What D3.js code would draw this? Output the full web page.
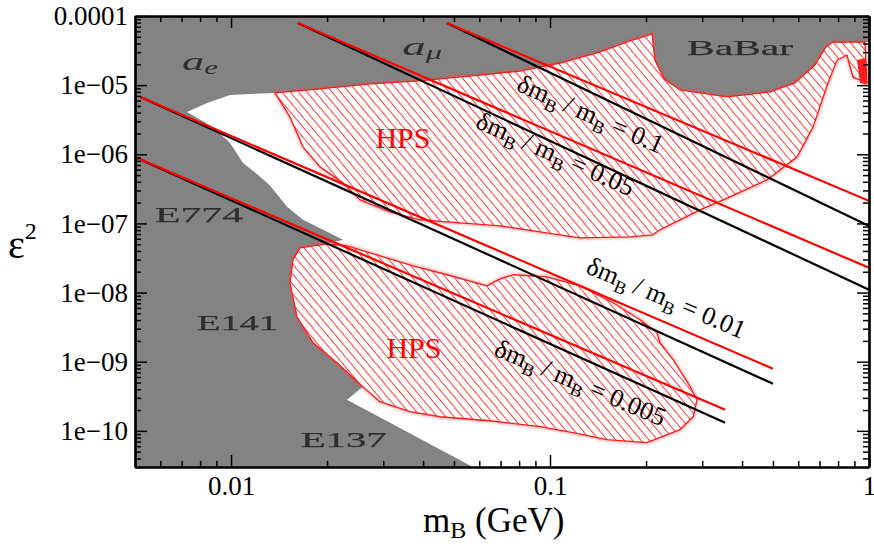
<!DOCTYPE html>
<html><head><meta charset="utf-8">
<script src="https://cdn.jsdelivr.net/npm/d3@7"></script>
<style>
body{margin:0;background:#fff}
text{font-family:"Liberation Serif","Times New Roman",serif;white-space:pre}
</style>
</head><body>
<svg id="c" width="874" height="544"></svg>
<script>
// ---------- data ----------
const xDomain = [0.005, 1];
const yDomain = [3e-11, 1e-4];
const xTickValues = [0.01, 0.1, 1];
const xTickText = ["0.01", "0.1", "1"];
const yTickValues = [1e-10, 1e-9, 1e-8, 1e-7, 1e-6, 1e-5, 1e-4];
const yTickText = ["1e\u221210", "1e\u221209", "1e\u221208", "1e\u221207", "1e\u221206", "1e\u221205", "0.0001"];

// allowed (white) region of the m_B - eps^2 plane
const allowedRegion = [
  [0.00728,4.10e-6],[0.00841,5.53e-6],[0.00993,7.22e-6],[0.01374,7.72e-6],
  [0.0190,8.81e-6],[0.0273,1.04e-5],[0.0391,1.15e-5],[0.0486,1.27e-5],[0.0603,1.40e-5],
  [0.0805,1.60e-5],[0.1075,2.09e-5],[0.1434,3.02e-5],[0.178,4.35e-5],[0.209,5.49e-5],
  [0.213,2.31e-5],[0.228,1.23e-5],[0.2555,8.52e-6],[0.359,6.75e-6],[0.489,7.97e-6],
  [0.586,1.08e-5],[0.677,1.96e-5],[0.733,3.56e-5],[0.771,4.21e-5],
  [1.0,4.21e-5],[1.0,3e-11],[0.0573,3e-11],[0.0231,2.82e-10],[0.0259,4.35e-10],
  [0.0215,9.67e-10],[0.0181,1.88e-9],[0.0161,4.47e-9],[0.0153,1.39e-8],[0.01565,2.98e-8],
  [0.01645,4.44e-8],[0.0200,5.07e-8],[0.02244,5.79e-8],[0.01942,8.08e-8],[0.01681,1.13e-7],
  [0.01498,1.74e-7],[0.01406,2.52e-7],[0.01320,3.61e-7],[0.01213,5.05e-7],[0.01091,7.51e-7],
  [0.00993,1.46e-6],[0.00878,2.49e-6]
];

// HPS reach, upper region
const hpsUpper = [
  [0.01374,7.72e-6],[0.0190,8.81e-6],[0.0273,1.04e-5],[0.0391,1.15e-5],[0.0486,1.27e-5],
  [0.0603,1.40e-5],[0.0805,1.60e-5],[0.1075,2.09e-5],[0.1434,3.02e-5],[0.178,4.35e-5],
  [0.209,5.49e-5],[0.213,2.31e-5],[0.228,1.23e-5],[0.2555,8.52e-6],[0.359,6.75e-6],
  [0.489,7.97e-6],[0.586,1.08e-5],[0.677,1.96e-5],[0.733,3.56e-5],[0.771,4.21e-5],
  [0.971,4.21e-5],[0.986,1.08e-5],[0.891,1.31e-5],[0.853,2.73e-5],[0.794,2.31e-5],
  [0.744,1.08e-5],[0.668,2.49e-6],[0.595,9.17e-7],[0.479,4.27e-7],[0.349,2.19e-7],
  [0.295,1.57e-7],[0.221,8.08e-8],[0.210,6.84e-8],[0.178,6.40e-8],[0.124,6.19e-8],
  [0.0930,7.56e-8],[0.0697,9.23e-8],[0.0522,1.02e-7],[0.0391,1.13e-7],[0.0315,1.47e-7],
  [0.0254,2.19e-7],[0.02244,3.86e-7],[0.0190,6.57e-7],[0.01681,1.28e-6],[0.0153,3.47e-6]
];

// HPS reach, lower region
const hpsLower = [
  [0.01645,4.44e-8],[0.0200,5.07e-8],[0.0231,4.75e-8],[0.0293,3.40e-8],[0.0372,2.44e-8],
  [0.0475,1.81e-8],[0.0635,1.25e-8],[0.0697,1.58e-8],[0.0766,1.81e-8],[0.0978,1.69e-8],
  [0.124,1.25e-8],[0.1575,7.12e-9],[0.1915,4.04e-9],[0.2165,2.62e-9],[0.221,1.88e-9],
  [0.243,1.07e-9],[0.275,4.35e-10],[0.289,2.82e-10],[0.281,1.60e-10],[0.2555,1.04e-10],
  [0.201,6.75e-11],[0.151,7.46e-11],[0.118,9.42e-11],[0.0930,1.15e-10],[0.0648,1.40e-10],
  [0.0452,1.60e-10],[0.0364,1.89e-10],[0.0293,2.64e-10],[0.0259,4.35e-10],[0.0215,9.67e-10],
  [0.0181,1.88e-9],[0.0161,4.47e-9],[0.0153,1.39e-8],[0.01565,2.98e-8]
];

const redBlob = [[0.917,2.31e-5],[0.978,2.47e-5],[0.985,1.01e-5],[0.937,1.08e-5]];

// mass-resolution lines: value, start, end of red line, end of black line
const massRes    = ["0.1", "0.05", "0.01", "0.005"];
const lineStart  = [[0.0475,7.9e-5],[0.0162,7.9e-5],[0.0052,6.75e-6],[0.00507,8.87e-7]];
const redEnd     = [[1,2.12e-7],[1,2.28e-8],[0.5,7.92e-10],[0.354,2.02e-10]];
const blackEnd   = [[1,9.2e-8],[1,1.1e-8],[0.5,4.8e-10],[0.354,1.31e-10]];
const labelAt    = [[0.1306,2.94e-6],[0.1014,7.77e-7],[0.226,6.45e-9],[0.1215,3.81e-10]];
const labelAngle = [24, 24, 23, 23];

// background (excluded) region labels
const regionNames = ["BaBar", "E774", "E141", "E137"];
const regionAt    = [[0.269,2.73e-5],[0.00578,1.05e-7],[0.00782,2.90e-9],[0.01653,5.91e-11]];
const regionWidth = [106, 88, 81, 86];
const hpsLabelAt  = [[0.0346,1.24e-6],[0.03745,1.14e-9]];

// ---------- chart ----------
const svg = d3.select("#c");
const L = 135, R = 869, T = 16, B = 467;
const x = d3.scaleLog().domain(xDomain).range([L, R]);
const y = d3.scaleLog().domain(yDomain).range([B, T]);

const defs = svg.append("defs");
defs.append("clipPath").attr("id","plot").append("rect")
  .attr("x",L).attr("y",T).attr("width",R-L).attr("height",B-T);
const pat = defs.append("pattern").attr("id","hatch").attr("patternUnits","userSpaceOnUse")
  .attr("width",6.4).attr("height",6.4).attr("patternTransform","rotate(-40)");
pat.append("rect").attr("width",6.4).attr("height",6.4).attr("fill","#fff");
pat.append("line").attr("x1",3.2).attr("y1",-1).attr("x2",3.2).attr("y2",8)
  .attr("stroke","#ff3b3b").attr("stroke-width",1);
defs.append("filter").attr("id","glow").attr("x","-10%").attr("y","-10%").attr("width","120%").attr("height","120%")
  .append("feGaussianBlur").attr("stdDeviation",1.6);
defs.append("filter").attr("id","soft").append("feGaussianBlur").attr("stdDeviation",0.45);

const poly = d3.line().x(d => x(d[0])).y(d => y(d[1])).curve(d3.curveLinearClosed);
const seg = d3.line().x(d => x(d[0])).y(d => y(d[1]));

const plot = svg.append("g").attr("clip-path","url(#plot)");
plot.append("rect").attr("x",L).attr("y",T).attr("width",R-L).attr("height",B-T).attr("fill","#838383");
plot.append("path").attr("d",poly(allowedRegion)).attr("fill","#fff");

// soft red glow around HPS regions
[hpsUpper, hpsLower].forEach(r => {
  plot.append("path").attr("d",poly(r)).attr("fill","none").attr("stroke","#ff4040")
    .attr("stroke-width",3).attr("opacity",0.45).attr("filter","url(#glow)");
});
[hpsUpper, hpsLower].forEach(r => {
  plot.append("path").attr("d",poly(r)).attr("fill","url(#hatch)")
    .attr("stroke","#ff1a1a").attr("stroke-width",1.3).attr("stroke-linejoin","round");
});
plot.append("path").attr("d",poly(redBlob)).attr("fill","#ff1a1a").attr("filter","url(#soft)");

// region names
const rg = plot.append("g").attr("fill","#2e2e2e").attr("filter","url(#soft)");
regionNames.forEach((n,i) => {
  rg.append("text").attr("x",x(regionAt[i][0])).attr("y",y(regionAt[i][1]))
    .attr("font-size",22).attr("textLength",regionWidth[i]).attr("lengthAdjust","spacingAndGlyphs")
    .attr("stroke","#2e2e2e").attr("stroke-width",0.25).text(n);
});
const ae = rg.append("text").attr("x",x(0.00702)).attr("y",y(1.66e-5)).attr("font-style","italic")
  .attr("font-size",26).attr("textLength",36).attr("lengthAdjust","spacingAndGlyphs");
ae.append("tspan").text("a");
ae.append("tspan").attr("font-size",18).attr("dy",4).text("e");
const am = rg.append("text").attr("x",x(0.0344)).attr("y",y(2.73e-5)).attr("font-style","italic")
  .attr("font-size",26).attr("textLength",40).attr("lengthAdjust","spacingAndGlyphs");
am.append("tspan").text("a");
am.append("tspan").attr("font-size",18).attr("dy",4).text("\u03bc");

// HPS labels
hpsLabelAt.forEach(p => {
  plot.append("text").attr("x",x(p[0])).attr("y",y(p[1])).attr("text-anchor","middle")
    .attr("font-size",30).attr("fill","#ff0000").text("HPS");
});

// mass resolution lines
massRes.forEach((v,i) => {
  plot.append("path").attr("d",seg([lineStart[i],blackEnd[i]])).attr("stroke","#000")
    .attr("stroke-width",2.2).attr("fill","none");
  plot.append("path").attr("d",seg([lineStart[i],redEnd[i]])).attr("stroke","#ff0000")
    .attr("stroke-width",2.2).attr("fill","none");
});
massRes.forEach((v,i) => {
  const px = x(labelAt[i][0]), py = y(labelAt[i][1]);
  const t = plot.append("text").attr("text-anchor","middle").attr("font-size",26).attr("fill","#000")
    .attr("transform",`translate(${px},${py}) rotate(${labelAngle[i]})`);
  t.append("tspan").text("\u03b4m");
  t.append("tspan").attr("font-size",18).attr("dy",6).text("B");
  t.append("tspan").attr("dy",-6).text(" / m");
  t.append("tspan").attr("font-size",18).attr("dy",6).text("B");
  t.append("tspan").attr("dy",-6).text(" = " + v);
});

// ---------- axes ----------
const isMajor = d => Math.abs(Math.log10(d) - Math.round(Math.log10(d))) < 1e-6;
const xMinor = x.ticks().filter(d => !isMajor(d));
const yMinor = y.ticks().filter(d => !isMajor(d));

function styleAxis(g){
  g.selectAll(".domain").attr("stroke","#000").attr("stroke-width",2.2);
  g.selectAll(".tick line").attr("stroke","#000").attr("stroke-width",1.5);
  g.selectAll("text").attr("font-family","Liberation Serif, serif").attr("font-size",27).attr("fill","#000");
}
// bottom
svg.append("g").attr("transform",`translate(0,${B})`)
  .call(d3.axisBottom(x).tickValues(xMinor).tickSize(-6).tickSizeOuter(0).tickFormat("")).call(styleAxis);
svg.append("g").attr("transform",`translate(0,${B})`)
  .call(d3.axisBottom(x).tickValues(xTickValues).tickSize(-12).tickSizeOuter(0).tickPadding(9)
    .tickFormat((d,i) => xTickText[i])).call(styleAxis);
// top
svg.append("g").attr("transform",`translate(0,${T})`)
  .call(d3.axisTop(x).tickValues(xMinor).tickSize(-6).tickSizeOuter(0).tickFormat("")).call(styleAxis);
svg.append("g").attr("transform",`translate(0,${T})`)
  .call(d3.axisTop(x).tickValues(xTickValues).tickSize(-12).tickSizeOuter(0).tickFormat("")).call(styleAxis);
// left
svg.append("g").attr("transform",`translate(${L},0)`)
  .call(d3.axisLeft(y).tickValues(yMinor).tickSize(-6).tickSizeOuter(0).tickFormat("")).call(styleAxis);
svg.append("g").attr("transform",`translate(${L},0)`)
  .call(d3.axisLeft(y).tickValues(yTickValues).tickSize(-12).tickSizeOuter(0).tickPadding(7)
    .tickFormat((d,i) => yTickText[i])).call(styleAxis);
// right
svg.append("g").attr("transform",`translate(${R},0)`)
  .call(d3.axisRight(y).tickValues(yMinor).tickSize(-6).tickSizeOuter(0).tickFormat("")).call(styleAxis);
svg.append("g").attr("transform",`translate(${R},0)`)
  .call(d3.axisRight(y).tickValues(yTickValues).tickSize(-12).tickSizeOuter(0).tickFormat("")).call(styleAxis);

// axis titles
const xt = svg.append("text").attr("x",423).attr("y",532).attr("font-size",35).attr("fill","#000");
xt.append("tspan").text("m");
xt.append("tspan").attr("font-size",24).attr("dy",6).text("B");
xt.append("tspan").attr("dy",-6).text(" (GeV)");
const yt = svg.append("text").attr("x",8).attr("y",258).attr("font-size",40).attr("fill","#000");
yt.append("tspan").text("\u03b5");
yt.append("tspan").attr("font-size",24).attr("dy",-19).text("2");
</script>
</body></html>
